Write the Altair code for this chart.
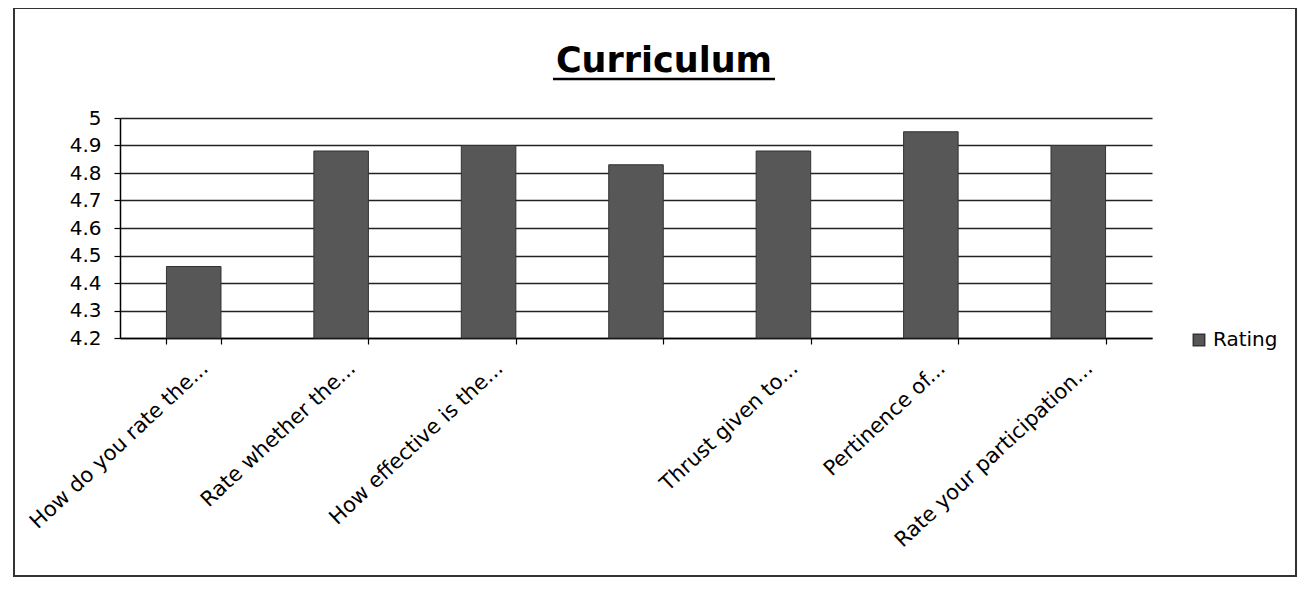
import altair as alt
import pandas as pd

categories = [
    "How do you rate the...",
    "Rate whether the...",
    "How effective is the...",
    " ",
    "Thrust given to...",
    "Pertinence of...",
    "Rate your participation...",
]
ratings = [4.46, 4.88, 4.90, 4.83, 4.88, 4.95, 4.90]
series_name = "Rating"
y_ticks = [4.2, 4.3, 4.4, 4.5, 4.6, 4.7, 4.8, 4.9, 5.0]
y_domain = [4.2, 5.0]
chart_title = "Curriculum"

df = pd.DataFrame({"question": categories, "rating": ratings, "series": [series_name] * len(categories)})
title_df = pd.DataFrame({"t": [chart_title]})

W, H = 1032, 220
FONT = "DejaVu Sans"

bars = alt.Chart(df).mark_bar(stroke="#333333", strokeWidth=1).encode(
    x=alt.X(
        "question:N",
        sort=categories,
        title=None,
        scale=alt.Scale(paddingInner=0.63, paddingOuter=0.315),
        axis=alt.Axis(
            labelAngle=-43,
            labelAlign="right",
            labelBaseline="middle",
            labelFontSize=21,
            labelFont=FONT,
            labelColor="black",
            labelPadding=21,
            labelOffset=11,
            tickBand="extent",
            tickSize=6,
            tickColor="black",
            tickWidth=1.2,
            domainColor="black",
            domainWidth=1.5,
            grid=False,
            labelLimit=400,
        ),
    ),
    y=alt.Y(
        "rating:Q",
        title=None,
        scale=alt.Scale(domain=y_domain, zero=False, nice=False),
        axis=alt.Axis(
            values=y_ticks,
            format=".1~f",
            labelFontSize=20,
            labelFont=FONT,
            labelColor="black",
            labelPadding=13,
            tickSize=6,
            tickColor="black",
            tickWidth=1.2,
            domainColor="black",
            domainWidth=1.5,
            grid=True,
            gridColor="#222222",
            gridWidth=1.5,
        ),
    ),
    y2=alt.datum(4.2),
    color=alt.Color(
        "series:N",
        scale=alt.Scale(range=["#575757"]),
        legend=alt.Legend(
            title=None,
            orient="none",
            legendX=1069,
            legendY=212,
            symbolType="square",
            symbolSize=130,
            symbolStrokeColor="#333333",
            labelFontSize=20,
            labelFont=FONT,
            labelColor="black",
        ),
    ),
)

title = alt.Chart(title_df).mark_text(
    font=FONT, fontSize=35, fontWeight="bold", align="center", baseline="alphabetic", color="black"
).encode(text="t:N", x=alt.value(544), y=alt.value(-46))

underline = alt.Chart(title_df).mark_rule(color="black", strokeWidth=2.5).encode(
    x=alt.value(433), x2=alt.value(655), y=alt.value(-39)
)

border = alt.Chart(title_df).mark_rect(fillOpacity=0, stroke="#333333", strokeWidth=2).encode(
    x=alt.value(-106), x2=alt.value(1176), y=alt.value(-110), y2=alt.value(458)
)

chart = (
    alt.layer(border, bars, title, underline)
    .properties(
        width=W,
        height=H,
        autosize=alt.AutoSizeParams(type="none"),
        padding={"left": 112, "top": 110, "right": 146, "bottom": 240},
    )
    .configure_view(stroke=None)
)

chart.save("out.html", embed_options={"renderer": "svg", "actions": False})
